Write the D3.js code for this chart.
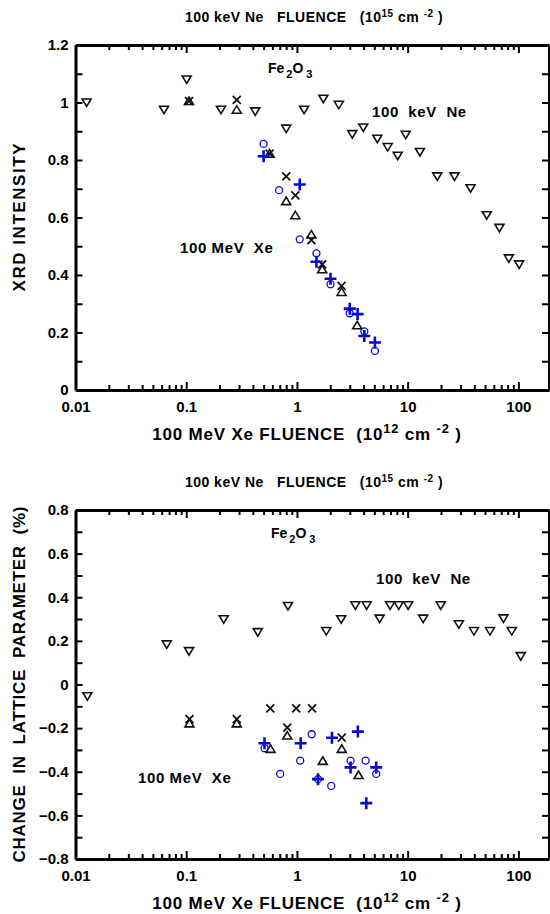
<!DOCTYPE html>
<html>
  <head>
    <meta charset="utf-8" />
    <script src="https://d3js.org/d3.v7.min.js"></script>
    <style>
      body { margin: 0; background: #fff; }
      text {
        font-family: "Liberation Sans", Arial, sans-serif;
        font-weight: bold;
        fill: #000;
        white-space: pre;
      }
      .axis path { stroke: #000; stroke-width: 3px; fill: none; }
      .axis line { stroke: #000; stroke-width: 2px; }
      .axis text { font-size: 15px; }
    </style>
  </head>
  <body>

    <svg id="chart" width="550" height="914"></svg>

    <script>

      // shared axis values
      var xTickValues = [0.01, 0.1, 1, 10, 100];
      var xrdTickValues = [0, 0.2, 0.4, 0.6, 0.8, 1, 1.2];
      var latTickValues = [-0.8, -0.6, -0.4, -0.2, 0, 0.2, 0.4, 0.6, 0.8];

      // top panel: XRD intensity
      var neXrdFluence = [0.0126, 0.063, 0.101, 0.206, 0.42, 0.80, 1.16, 1.73, 2.39, 3.16, 3.97, 5.32, 6.6, 8.13, 9.6, 12.9, 18.5, 26.5, 37, 51.8, 67.4, 82, 101.6];
      var neXrdIntensity = [1.0, 0.975, 1.08, 0.975, 0.969, 0.909, 0.975, 1.013, 0.992, 0.89, 0.913, 0.874, 0.845, 0.815, 0.888, 0.828, 0.743, 0.743, 0.702, 0.608, 0.564, 0.458, 0.437];

      var xeXrdCrossFluence = [0.106, 0.286, 0.566, 0.80, 0.967, 1.35, 1.69, 2.53];
      var xeXrdCrossIntensity = [1.005, 1.009, 0.822, 0.743, 0.677, 0.521, 0.437, 0.362];
      var xeXrdTriFluence = [0.106, 0.286, 0.566, 0.80, 0.967, 1.35, 1.69, 2.53, 3.5];
      var xeXrdTriIntensity = [1.005, 0.975, 0.822, 0.657, 0.608, 0.541, 0.42, 0.341, 0.225];
      var xeXrdCircleFluence = [0.5, 0.69, 1.06, 1.5, 2.01, 3.0, 4.06, 5.06];
      var xeXrdCircleIntensity = [0.856, 0.695, 0.524, 0.475, 0.368, 0.267, 0.204, 0.136];
      var xeXrdPlusFluence = [0.5, 1.06, 1.5, 2.01, 3.0, 3.53, 4.06, 5.06];
      var xeXrdPlusIntensity = [0.813, 0.715, 0.446, 0.387, 0.283, 0.264, 0.188, 0.165];

      // bottom panel: change in lattice parameter (%)
      var neLatFluence = [0.0128, 0.0667, 0.106, 0.218, 0.443, 0.83, 1.84, 2.51, 3.37, 4.26, 5.58, 6.94, 8.3, 10.1, 13.8, 19.9, 29, 39.7, 55.4, 73.3, 87.1, 105];
      var neLatChange = [-0.054, 0.184, 0.153, 0.299, 0.24, 0.36, 0.245, 0.299, 0.363, 0.363, 0.302, 0.363, 0.363, 0.363, 0.302, 0.363, 0.276, 0.245, 0.245, 0.303, 0.245, 0.13];

      var xeLatCrossFluence = [0.107, 0.286, 0.574, 0.817, 0.985, 1.37, 2.54];
      var xeLatCrossChange = [-0.159, -0.159, -0.109, -0.198, -0.109, -0.109, -0.244];
      var xeLatTriFluence = [0.107, 0.286, 0.577, 0.817, 1.71, 2.54, 3.6];
      var xeLatTriChange = [-0.178, -0.178, -0.295, -0.234, -0.35, -0.295, -0.415];
      var xeLatCircleFluence = [0.51, 0.706, 1.07, 1.36, 1.55, 2.04, 3.05, 4.17, 5.2];
      var xeLatCircleChange = [-0.292, -0.41, -0.349, -0.228, -0.434, -0.465, -0.349, -0.349, -0.41];
      var xeLatPlusFluence = [0.509, 1.08, 1.55, 2.07, 3.05, 3.55, 4.23, 5.2];
      var xeLatPlusChange = [-0.269, -0.269, -0.434, -0.244, -0.38, -0.216, -0.544, -0.38];

      var svg = d3.select("#chart");
      var blue = "#0a0ad2";

      var markers = {
        down: "M-4.5,-3.5L4.5,-3.5L0,4Z",
        up: "M-4.5,3.5L4.5,3.5L0,-4Z",
        cross: "M-4,-4L4,4M-4,4L4,-4",
        plus: "M-6,0L6,0M0,-6L0,6"
      };

      function isDecade(d) {
        var l = Math.log10(d);
        return Math.abs(l - Math.round(l)) < 1e-6;
      }

      function drawPanel(cfg) {

        var x = d3.scaleLog().domain([0.01, 189]).range([75.5, 549]);
        var y = d3.scaleLinear().domain(cfg.yDomain).range([cfg.bottom, cfg.top]);

        var g = svg.append("g");

        var minorX = x.ticks().filter(function(d) { return !isDecade(d); });
        var minorY = d3.range(Math.round(cfg.yDomain[0] * 10), Math.round(cfg.yDomain[1] * 10) + 1)
          .map(function(d) { return d / 10; });

        // minor ticks first, then main axes with the frame lines
        g.append("g").attr("class", "axis")
          .attr("transform", "translate(0," + cfg.bottom + ")")
          .call(d3.axisBottom(x).tickValues(minorX).tickSize(-5).tickFormat(""))
          .select(".domain").remove();
        g.append("g").attr("class", "axis")
          .attr("transform", "translate(0," + cfg.top + ")")
          .call(d3.axisTop(x).tickValues(minorX).tickSize(-5).tickFormat(""))
          .select(".domain").remove();

        g.append("g").attr("class", "axis")
          .attr("transform", "translate(0," + cfg.bottom + ")")
          .call(d3.axisBottom(x).tickValues(xTickValues).tickSize(-8).tickSizeOuter(0)
            .tickPadding(11).tickFormat(d3.format("~g")));
        g.append("g").attr("class", "axis")
          .attr("transform", "translate(0," + cfg.top + ")")
          .call(d3.axisTop(x).tickValues(xTickValues).tickSize(-8).tickSizeOuter(0).tickFormat(""));

        g.append("g").attr("class", "axis")
          .attr("transform", "translate(75.5,0)")
          .call(d3.axisLeft(y).tickValues(minorY).tickSize(-7).tickSizeOuter(0)
            .tickPadding(7)
            .tickFormat(function(d) {
              var hit = cfg.yTicks.some(function(t) { return Math.abs(t - d) < 1e-9; });
              return hit ? d3.format("~g")(d) : "";
            }));
        g.append("g").attr("class", "axis")
          .attr("transform", "translate(549,0)")
          .call(d3.axisRight(y).tickValues(minorY).tickSize(-7).tickSizeOuter(0).tickFormat(""));

        // Ne points
        g.selectAll(".ne").data(d3.zip(cfg.ne[0], cfg.ne[1]))
          .enter().append("path")
          .attr("d", markers.down)
          .attr("transform", function(d) { return "translate(" + x(d[0]) + "," + y(d[1]) + ")"; })
          .attr("fill", "none").attr("stroke", "#111").attr("stroke-width", 1.6);

        // Xe points
        g.selectAll(".xtri").data(d3.zip(cfg.tri[0], cfg.tri[1]))
          .enter().append("path")
          .attr("d", markers.up)
          .attr("transform", function(d) { return "translate(" + x(d[0]) + "," + y(d[1]) + ")"; })
          .attr("fill", "none").attr("stroke", "#111").attr("stroke-width", 1.6);

        g.selectAll(".xcross").data(d3.zip(cfg.cross[0], cfg.cross[1]))
          .enter().append("path")
          .attr("d", markers.cross)
          .attr("transform", function(d) { return "translate(" + x(d[0]) + "," + y(d[1]) + ")"; })
          .attr("fill", "none").attr("stroke", "#111").attr("stroke-width", 1.8);

        g.selectAll(".xcircle").data(d3.zip(cfg.circle[0], cfg.circle[1]))
          .enter().append("circle")
          .attr("cx", function(d) { return x(d[0]); })
          .attr("cy", function(d) { return y(d[1]); })
          .attr("r", 3.5)
          .attr("fill", "none").attr("stroke", blue).attr("stroke-width", 1.3);

        g.selectAll(".xplus").data(d3.zip(cfg.plus[0], cfg.plus[1]))
          .enter().append("path")
          .attr("d", markers.plus)
          .attr("transform", function(d) { return "translate(" + x(d[0]) + "," + y(d[1]) + ")"; })
          .attr("fill", "none").attr("stroke", blue).attr("stroke-width", 2.6);

        // top axis title
        var tt = g.append("text").attr("x", 314).attr("y", cfg.top - 23)
          .attr("text-anchor", "middle").attr("font-size", 14).attr("letter-spacing", 0.5);
        tt.append("tspan").text("100 keV Ne   FLUENCE   (10");
        tt.append("tspan").attr("dy", -5).attr("font-size", 10).text("15");
        tt.append("tspan").attr("dy", 5).text(" cm ");
        tt.append("tspan").attr("dy", -5).attr("font-size", 10).text("-2");
        tt.append("tspan").attr("dy", 5).text(" )");

        // bottom axis title
        var bt = g.append("text").attr("x", 307).attr("y", cfg.bottom + 50)
          .attr("text-anchor", "middle").attr("font-size", 17).attr("letter-spacing", 0.8);
        bt.append("tspan").text("100 MeV Xe FLUENCE  (10");
        bt.append("tspan").attr("dy", -7).attr("font-size", 13).text("12");
        bt.append("tspan").attr("dy", 7).text(" cm ");
        bt.append("tspan").attr("dy", -7).attr("font-size", 13).text("-2");
        bt.append("tspan").attr("dy", 7).text(" )");

        // y axis title
        var midY = (cfg.top + cfg.bottom) / 2;
        g.append("text")
          .attr("transform", "translate(25," + midY + ") rotate(-90)")
          .attr("text-anchor", "middle")
          .attr("font-size", 17)
          .attr("textLength", cfg.yTitleLength)
          .attr("lengthAdjust", "spacing")
          .text(cfg.yTitle);

        // in-plot labels
        var fe = g.append("text").attr("x", cfg.feX).attr("y", cfg.top + 28).attr("font-size", 14);
        fe.append("tspan").text("Fe");
        fe.append("tspan").attr("dx", 2).attr("dy", 5).attr("font-size", 11).text("2");
        fe.append("tspan").attr("dy", -5).text("O");
        fe.append("tspan").attr("dx", 3).attr("dy", 5).attr("font-size", 11).text("3");

        g.append("text").attr("x", cfg.neLabel[0]).attr("y", cfg.neLabel[1])
          .attr("font-size", 15).attr("letter-spacing", 0.6).text("100  keV  Ne");
        g.append("text").attr("x", cfg.xeLabel[0]).attr("y", cfg.xeLabel[1])
          .attr("font-size", 15).attr("letter-spacing", 0.6).text("100 MeV  Xe");
      }

      drawPanel({
        yDomain: [0, 1.2], yTicks: xrdTickValues, top: 45, bottom: 390,
        yTitle: "XRD INTENSITY", yTitleLength: 148,
        feX: 268, neLabel: [372, 117], xeLabel: [180, 253],
        ne: [neXrdFluence, neXrdIntensity],
        cross: [xeXrdCrossFluence, xeXrdCrossIntensity],
        tri: [xeXrdTriFluence, xeXrdTriIntensity],
        circle: [xeXrdCircleFluence, xeXrdCircleIntensity],
        plus: [xeXrdPlusFluence, xeXrdPlusIntensity]
      });

      drawPanel({
        yDomain: [-0.8, 0.8], yTicks: latTickValues, top: 510, bottom: 859,
        yTitle: "CHANGE  IN  LATTICE  PARAMETER  (%)", yTitleLength: 356,
        feX: 271, neLabel: [376, 584], xeLabel: [138, 783],
        ne: [neLatFluence, neLatChange],
        cross: [xeLatCrossFluence, xeLatCrossChange],
        tri: [xeLatTriFluence, xeLatTriChange],
        circle: [xeLatCircleFluence, xeLatCircleChange],
        plus: [xeLatPlusFluence, xeLatPlusChange]
      });

    </script>

  </body>
</html>
